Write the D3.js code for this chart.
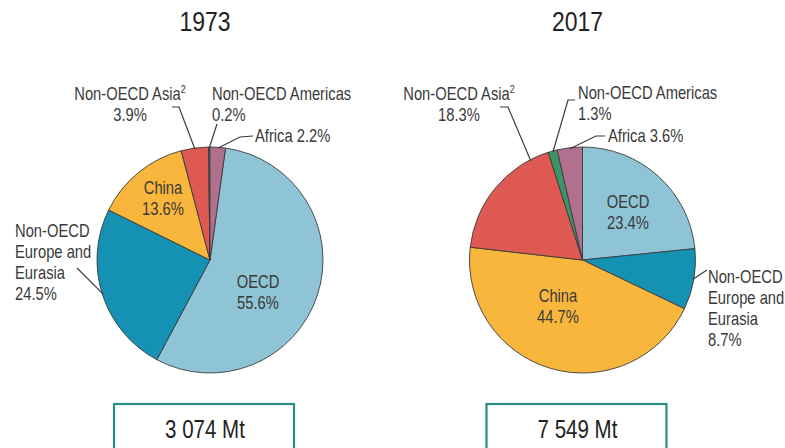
<!DOCTYPE html>
<html>
<head>
<meta charset="utf-8">
<script src="https://cdn.jsdelivr.net/npm/d3@7"></script>
<style>
  body { margin: 0; background: #fff; }
  svg text { font-family: "Liberation Sans", Arial, sans-serif; fill: #3a3a3a; }
</style>
</head>
<body>
<svg id="chart" width="785" height="448"></svg>
<script>
// data
const regions = ["OECD", "Non-OECD Europe and Eurasia", "China", "Non-OECD Asia", "Non-OECD Americas", "Africa"];
const regionLines = [["OECD"], ["Non-OECD", "Europe and", "Eurasia"], ["China"], ["Non-OECD Asia"], ["Non-OECD Americas"], ["Africa"]];
const years = ["1973", "2017"];
const shares1973 = [55.6, 24.5, 13.6, 3.9, 0.2, 2.2];
const shares2017 = [23.4, 8.7, 44.7, 18.3, 1.3, 3.6];
const totals = ["3 074 Mt", "7 549 Mt"];

const colours = ["#8fc4d7", "#1592b3", "#f8b63c", "#df5953", "#3c9468", "#b1718e"];

// layout of each pie: label offsets relative to centre, leader elbows, where on the slice the leader lands
const pies = [
  {
    year: years[0], shares: shares1973, total: totals[0], cx: 210, cy: 260, rot: 7.9,
    labels: [
      { x: 48, y: 28, anchor: "middle" },
      { x: -195, y: -23, anchor: "start", leader: [[-133, 8]], at: 0.5 },
      { x: -47, y: -66, anchor: "middle" },
      { x: -80, y: -160, anchor: "middle", sup: true, leader: [[-38, -153], [-31, -153]], at: 0.5 },
      { x: 2, y: -160, anchor: "start", leader: [[7, -136]], at: 0.5 },
      { x: 45, y: -118, anchor: "start", inline: true, leader: [[43, -124], [30, -123]], at: 0.5 }
    ]
  },
  {
    year: years[1], shares: shares2017, total: totals[1], cx: 582.5, cy: 260, rot: 0,
    labels: [
      { x: 45.5, y: -52, anchor: "middle" },
      { x: 125.5, y: 23, anchor: "start", leader: [[124.5, 10]], at: 0.5 },
      { x: -24.5, y: 42, anchor: "middle" },
      { x: -123.5, y: -160, anchor: "middle", sup: true, leader: [[-82.5, -153], [-74.5, -153]], at: 0.85 },
      { x: -4.5, y: -161, anchor: "start", leader: [[-7.5, -160], [-14.5, -160]], at: 0.5 },
      { x: 25.5, y: -118, anchor: "start", inline: true, leader: [[22.5, -124], [13.5, -124]], at: 0.5 }
    ]
  }
];

const radius = 113;
const lineH = 21;
const squeeze = 0.82; // narrow type, as in the source
const svg = d3.select("#chart");

const colour = d3.scaleOrdinal().domain(regions).range(colours);
const fmt = d => d3.format(".1f")(d) + "%";

// text drawn with a horizontal squeeze
function narrowText(parent, x, y, size, anchor) {
  return parent.append("text")
    .attr("transform", `translate(${x},${y}) scale(${squeeze},1)`)
    .attr("text-anchor", anchor)
    .style("font-size", size + "px");
}

pies.forEach(p => {
  const rot = p.rot * Math.PI / 180;
  const pie = d3.pie().sort(null).value(d => d.value)
    .startAngle(rot).endAngle(rot + 2 * Math.PI);
  const arcs = pie(regions.map((r, i) => ({ name: r, value: p.shares[i], i })));
  const arc = d3.arc().innerRadius(0).outerRadius(radius);

  const g = svg.append("g").attr("transform", `translate(${p.cx},${p.cy})`);

  // title
  narrowText(svg, p.cx - 5, 31, 28, "middle")
    .style("fill", "#222")
    .text(p.year);

  g.selectAll("path.slice")
    .data(arcs)
    .enter()
    .append("path")
    .attr("class", "slice")
    .attr("d", arc)
    .style("fill", d => colour(d.data.name))
    .style("stroke", "#3b3b3b")
    .style("stroke-width", 0.9);

  // leaders
  arcs.forEach((a, i) => {
    const lab = p.labels[i];
    if (!lab.leader) return;
    const ang = a.startAngle + (a.endAngle - a.startAngle) * lab.at;
    const end = [Math.sin(ang) * (radius - 1), -Math.cos(ang) * (radius - 1)];
    g.append("path")
      .attr("d", d3.line()(lab.leader.concat([end])))
      .style("fill", "none")
      .style("stroke", "#3b3b3b")
      .style("stroke-width", 1.2);
  });

  // labels
  arcs.forEach((a, i) => {
    const lab = p.labels[i];
    const lines = regionLines[i].slice();
    const t = narrowText(g, lab.x, lab.y, 18, lab.anchor);
    if (lab.inline) {
      lines[lines.length - 1] += " " + fmt(a.data.value);
    } else {
      lines.push(fmt(a.data.value));
    }
    lines.forEach((ln, k) => {
      t.append("tspan")
        .attr("x", 0)
        .attr("y", k * lineH)
        .text(ln);
      if (k === 0 && lab.sup) {
        t.append("tspan")
          .attr("dy", -7)
          .style("font-size", "11px")
          .text("2");
      }
    });
  });

  // total box
  const bw = 180, bh = 50;
  svg.append("rect")
    .attr("x", p.cx - 6 - bw / 2)
    .attr("y", 404)
    .attr("width", bw)
    .attr("height", bh)
    .style("fill", "#fff")
    .style("stroke", "#2b8c84")
    .style("stroke-width", 2.2);

  narrowText(svg, p.cx - 5, 438, 25, "middle")
    .style("fill", "#222")
    .text(p.total);
});
</script>
</body>
</html>
